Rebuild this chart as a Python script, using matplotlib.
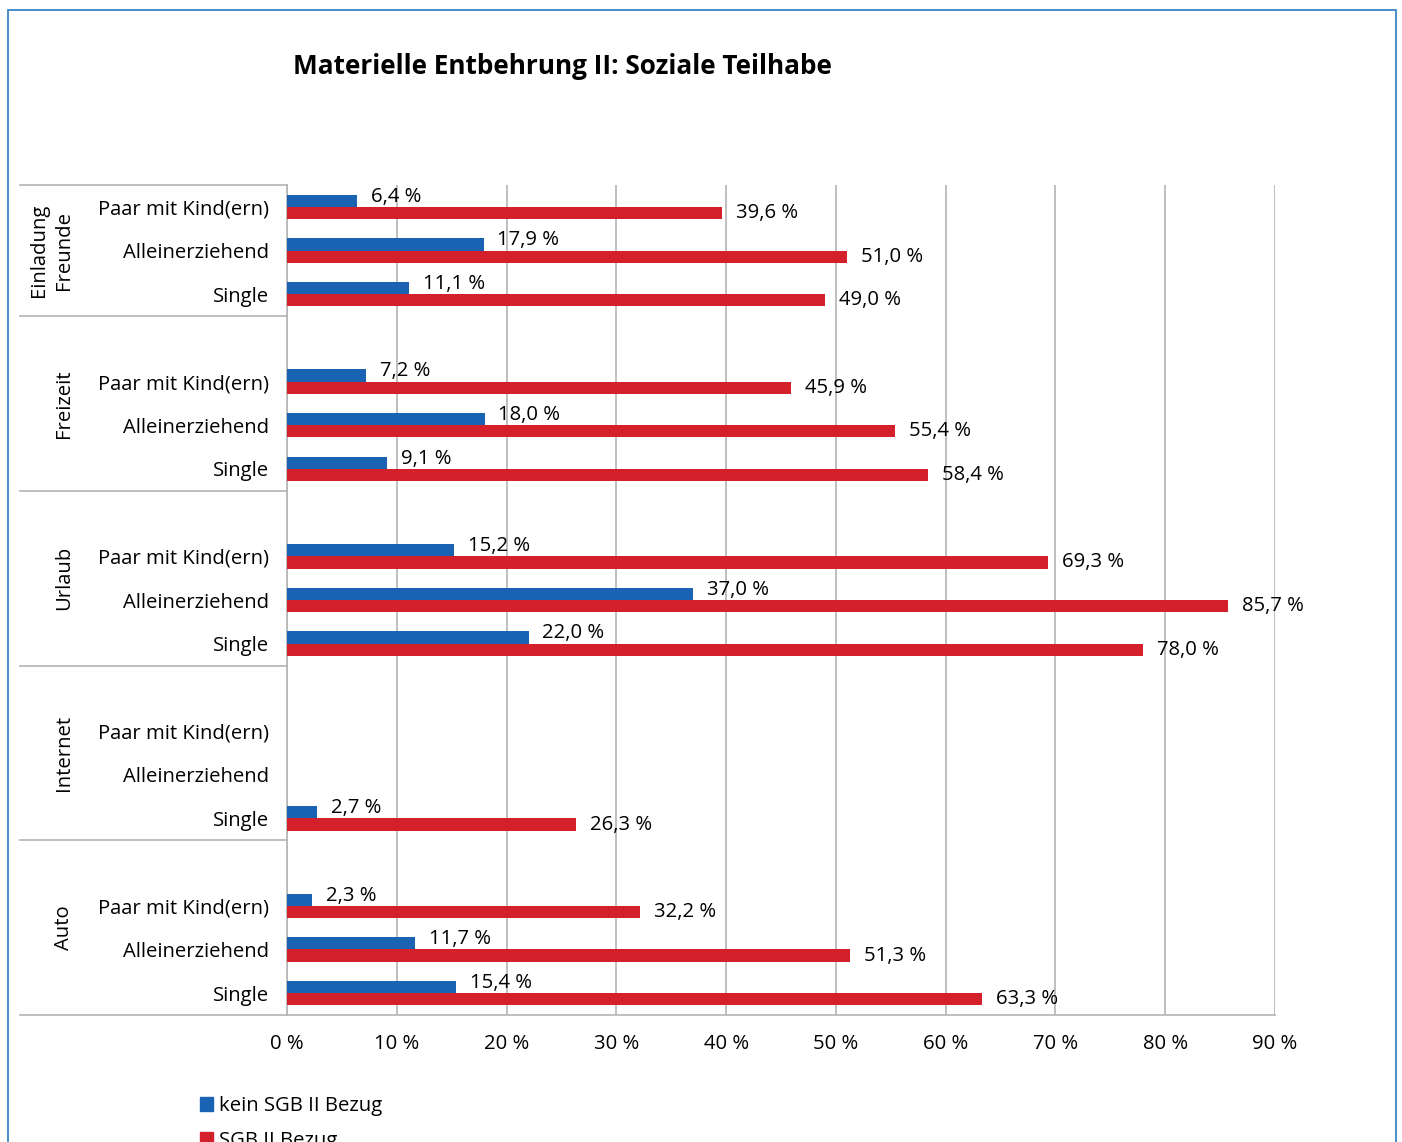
import matplotlib.pyplot as plt
import matplotlib.patches as mpatches
import matplotlib.transforms as mtransforms

plt.rcParams['font.family'] = ['Open Sans', 'DejaVu Sans']

# data (percent), top to bottom
groups = ['Einladung\nFreunde', 'Freizeit', 'Urlaub', 'Internet', 'Auto']
subgroups = ['Paar mit Kind(ern)', 'Alleinerziehend', 'Single']
kein_sgb = [6.4, 17.9, 11.1,
            7.2, 18.0, 9.1,
            15.2, 37.0, 22.0,
            None, None, 2.7,
            2.3, 11.7, 15.4]
sgb = [39.6, 51.0, 49.0,
       45.9, 55.4, 58.4,
       69.3, 85.7, 78.0,
       None, None, 26.3,
       32.2, 51.3, 63.3]
series_names = ['kein SGB II Bezug', 'SGB II Bezug']
colors = ['#1a63b2', '#d4202b']
grid_col = '#b4b4b4'
fs = 14.6

W, H = 1402, 1142
fig = plt.figure(figsize=(W / 100, H / 100), dpi=100)

# light blue frame round the whole chart (cut off at the bottom)
fig.patches.append(mpatches.Rectangle((8 / W, -0.05), 1388 / W, 1 - 10 / H + 0.05,
                                      transform=fig.transFigure, fill=False,
                                      edgecolor='#3c85c6', linewidth=1.3))

ax = fig.add_axes([287 / W, 1 - 1015 / H, 988 / W, 830 / H])

# slot positions: each group after the first starts with a blank slot
ypos, ylabels, group_centers, bounds = [], [], [], [-0.5]
slot = 0
for g in range(len(groups)):
    start = slot
    if g > 0:
        ylabels.append('')
        slot += 1
    for s in subgroups:
        ypos.append(slot)
        ylabels.append(s)
        slot += 1
    group_centers.append((start + slot - 1) / 2)
    bounds.append(slot - 0.5)

bh = 0.28
fmt = lambda v: f'{v:.1f} %'.replace('.', ',')
for k, vals in enumerate([kein_sgb, sgb]):
    off = -bh / 2 if k == 0 else bh / 2
    dy = 3 if k == 0 else 0
    for y, v in zip(ypos, vals):
        if v is None:
            continue
        ax.barh(y + off, v, height=bh, color=colors[k], zorder=3)
        ax.annotate(fmt(v), (v, y + off), xytext=(10, dy), textcoords='offset points',
                    va='center', ha='left', fontsize=fs, zorder=4)

ax.set_xlim(0, 90)
ax.set_ylim(slot - 0.5, -0.5)
ax.set_xticks(range(0, 91, 10))
ax.set_xticklabels([f'{t} %' for t in range(0, 91, 10)], fontsize=fs)
ax.set_yticks(range(slot))
ax.set_yticklabels(ylabels, fontsize=fs)
ax.tick_params(axis='both', length=0)
ax.tick_params(axis='x', pad=14)
ax.tick_params(axis='y', pad=13)
ax.grid(axis='x', color=grid_col, linewidth=1.2, zorder=0)
for side in ['top', 'right']:
    ax.spines[side].set_visible(False)
for side in ['left', 'bottom']:
    ax.spines[side].set_color(grid_col)
    ax.spines[side].set_linewidth(1.2)

# category box lines on the left
trans = mtransforms.blended_transform_factory(ax.transAxes, ax.transData)
x0 = (20 - 287) / 988
for b in bounds:
    ax.plot([x0, 0], [b, b], color=grid_col, lw=1.2, transform=trans, clip_on=False)

for name, c in zip(groups, group_centers):
    ax.text((74 - 287) / 988, c, name, rotation=90, ha='right', va='center',
            transform=trans, fontsize=fs, multialignment='center', linespacing=1.35)

fig.text(562 / W, 1 - 66 / H, 'Materielle Entbehrung II: Soziale Teilhabe',
         ha='center', va='center', fontsize=18.8, fontweight='bold')

handles = [mpatches.Patch(color=c) for c in colors]
fig.legend(handles, series_names, loc='upper left', bbox_to_anchor=(192 / W, 1 - 1088 / H),
           frameon=False, fontsize=fs, handlelength=0.65, handleheight=0.65,
           handletextpad=0.3, labelspacing=0.75, borderaxespad=0)

fig.savefig('out.png', dpi=100)
